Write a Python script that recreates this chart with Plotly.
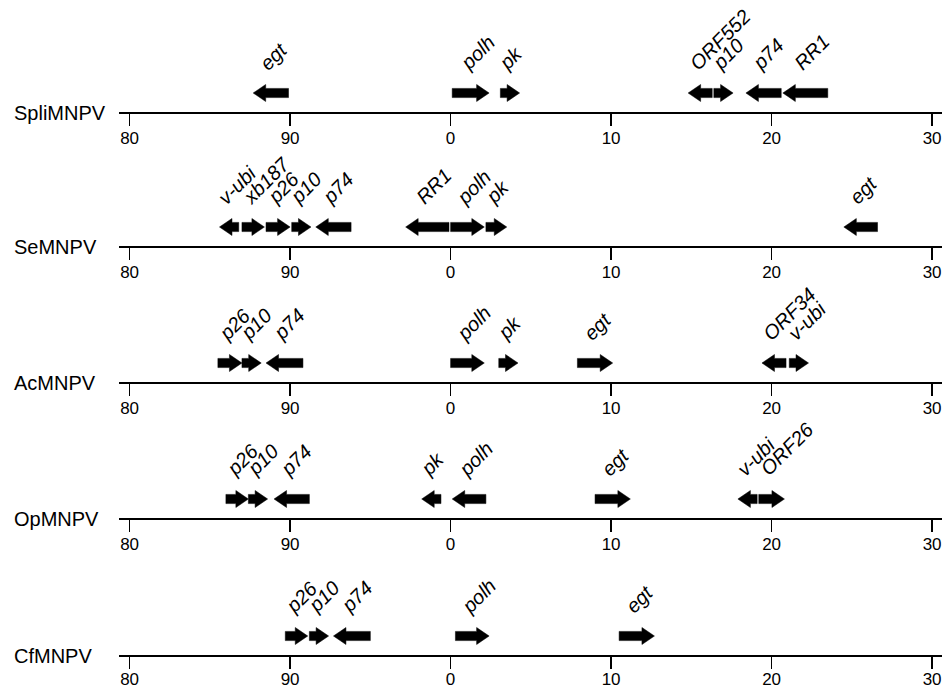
import plotly.graph_objects as go

# ---------------- data (map units; circular genome shown 80..100 then 0..30) ----------------
tick_vals_map = [80, 90, 0, 10, 20, 30]
tick_labels = ["80", "90", "0", "10", "20", "30"]

genome_names = ["SpliMNPV", "SeMNPV", "AcMNPV", "OpMNPV", "CfMNPV"]

spli_genes = ["egt", "polh", "pk", "ORF552", "p10", "p74", "RR1"]
spli_start = [87.7, 0.1, 3.1, 14.8, 16.4, 18.4, 20.7]
spli_end = [89.9, 2.4, 4.3, 16.3, 17.6, 20.6, 23.5]
spli_strand = [-1, 1, 1, -1, 1, -1, -1]

se_genes = ["v-ubi", "xb187", "p26", "p10", "p74", "RR1", "polh", "pk", "egt"]
se_start = [85.6, 87.0, 88.5, 90.1, 91.6, 97.2, 0.0, 2.2, 24.5]
se_end = [86.8, 88.4, 90.0, 91.3, 93.8, 99.9, 2.1, 3.5, 26.6]
se_strand = [-1, 1, 1, 1, -1, -1, 1, 1, -1]

ac_genes = ["p26", "p10", "p74", "polh", "pk", "egt", "ORF34", "v-ubi"]
ac_start = [85.5, 87.0, 88.5, 0.0, 3.0, 7.9, 19.4, 21.1]
ac_end = [87.0, 88.2, 90.8, 2.1, 4.2, 10.1, 20.9, 22.3]
ac_strand = [1, 1, -1, 1, 1, 1, -1, 1]

op_genes = ["p26", "p10", "p74", "pk", "polh", "egt", "v-ubi", "ORF26"]
op_start = [86.0, 87.4, 89.0, 98.2, 0.1, 9.0, 17.9, 19.2]
op_end = [87.4, 88.6, 91.2, 99.4, 2.2, 11.2, 19.1, 20.8]
op_strand = [1, 1, -1, -1, -1, 1, -1, 1]

cf_genes = ["p26", "p10", "p74", "polh", "egt"]
cf_start = [89.7, 91.2, 92.7, 0.3, 10.5]
cf_end = [91.1, 92.4, 95.0, 2.4, 12.7]
cf_strand = [1, 1, -1, 1, 1]

tracks = [
    (spli_genes, spli_start, spli_end, spli_strand),
    (se_genes, se_start, se_end, se_strand),
    (ac_genes, ac_start, ac_end, ac_strand),
    (op_genes, op_start, op_end, op_strand),
    (cf_genes, cf_start, cf_end, cf_strand),
]

# ---------------- layout constants (screen px) ----------------
W, H = 942, 689
PLOT_L = 119
PX_PER_UNIT = 16.05
X80_PX = 129.6
AXIS_Y_PX = [112, 246, 382, 518, 655]
TRACK_PX = 100
FONT = "Liberation Sans, Arial, Helvetica, sans-serif"

ARROW_Y = 19
BODY_HALF = 4.6
HEAD_HALF = 8.5
HEAD_LEN = 12.5 / PX_PER_UNIT
LABEL_Y = 35


def unwrap(v):
    return v if v >= 50 else v + 100


x0 = 80 - (X80_PX - PLOT_L) / PX_PER_UNIT
x1 = 80 + (W - X80_PX) / PX_PER_UNIT
tickvals = [unwrap(v) for v in tick_vals_map]

fig = go.Figure()
annotations = []
layout_axes = {}

for i, (names, starts, ends, strands) in enumerate(tracks):
    k = "" if i == 0 else str(i + 1)
    xref, yref = "x" + k, "y" + k
    for name, s, e, d in zip(names, starts, ends, strands):
        a, b = unwrap(s), unwrap(e)
        yc = ARROW_Y
        if d > 0:
            xs = [a, b - HEAD_LEN, b - HEAD_LEN, b, b - HEAD_LEN, b - HEAD_LEN, a, a]
        else:
            xs = [b, a + HEAD_LEN, a + HEAD_LEN, a, a + HEAD_LEN, a + HEAD_LEN, b, b]
        ys = [yc - BODY_HALF, yc - BODY_HALF, yc - HEAD_HALF, yc, yc + HEAD_HALF,
              yc + BODY_HALF, yc + BODY_HALF, yc - BODY_HALF]
        fig.add_trace(go.Scatter(
            x=xs, y=ys, mode="lines", fill="toself", fillcolor="black",
            line=dict(color="black", width=0.5), hoverinfo="skip",
            showlegend=False, xaxis=xref, yaxis=yref))
        annotations.append(dict(
            x=(a + b) / 2, y=LABEL_Y, xref=xref, yref=yref,
            text="<i>%s</i>" % name, textangle=-45, showarrow=False,
            xanchor="left", yanchor="bottom", xshift=-18,
            font=dict(family=FONT, size=20, color="black")))

    bottom = (H - AXIS_Y_PX[i]) / H
    top = (H - AXIS_Y_PX[i] + TRACK_PX) / H
    layout_axes["yaxis" + k] = dict(domain=[bottom, top], range=[0, TRACK_PX],
                                    visible=False, fixedrange=True,
                                    anchor=xref)
    layout_axes["xaxis" + k] = dict(
        domain=[0, 1], range=[x0, x1], anchor=yref,
        showline=True, linecolor="black", linewidth=2,
        ticks="outside", ticklen=12, tickwidth=1.5, tickcolor="black",
        tickvals=tickvals, ticktext=tick_labels,
        ticklabelstandoff=-4 if i == len(tracks) - 1 else -2,
        tickfont=dict(family=FONT, size=17, color="black"),
        showgrid=False, zeroline=False, automargin=False, fixedrange=True)

    annotations.append(dict(
        x=(12 - PLOT_L) / (W - PLOT_L), y=0, xref="paper", yref=yref,
        text=genome_names[i], showarrow=False, xanchor="left", yanchor="middle",
        yshift=-1, font=dict(family=FONT, size=20, color="black")))

fig.update_layout(
    width=W, height=H, template="none",
    margin=dict(l=PLOT_L, r=0, t=0, b=0),
    paper_bgcolor="white", plot_bgcolor="rgba(0,0,0,0)",
    showlegend=False, annotations=annotations, **layout_axes)

fig.write_html(
    "out.html",
    config={"displayModeBar": False, "staticPlot": True},
    post_script="document.body.style.margin='0px';document.body.style.overflow='hidden';")
